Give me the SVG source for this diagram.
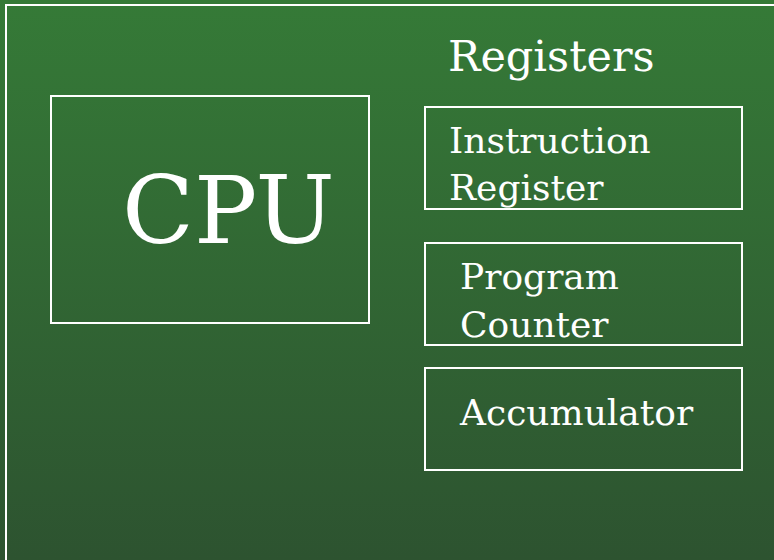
<svg xmlns="http://www.w3.org/2000/svg" width="774" height="560" viewBox="0 0 774 560">
<defs>
<linearGradient id="bg" x1="0" y1="0" x2="0" y2="1">
<stop offset="0" stop-color="#357a37"/>
<stop offset="1" stop-color="#2d5330"/>
</linearGradient>
</defs>
<style>
.box{fill:none;stroke:#ffffff;stroke-width:2}
.t{fill:#ffffff;font-family:"DejaVu Serif","Liberation Serif",serif}
.r{font-size:36px}
</style>
<rect x="0" y="0" width="774" height="560" fill="url(#bg)"/>
<path class="box" d="M6 560 V5 H774"/>
<text class="t" x="448" y="71" font-size="43">Registers</text>
<g id="cpu">
<rect class="box" x="51" y="96" width="318" height="227"/>
<text class="t" x="122" y="243" font-size="94">CPU</text>
</g>
<g id="instruction-register">
<rect class="box" x="425" y="107" width="317" height="102"/>
<text class="t r" x="449" y="153">Instruction</text>
<text class="t r" x="449" y="200">Register</text>
</g>
<g id="program-counter">
<rect class="box" x="425" y="243" width="317" height="102"/>
<text class="t r" x="460" y="289">Program</text>
<text class="t r" x="460" y="337">Counter</text>
</g>
<g id="accumulator">
<rect class="box" x="425" y="368" width="317" height="102"/>
<text class="t r" x="460" y="425">Accumulator</text>
</g>
<g id="connectors"/>
</svg>
